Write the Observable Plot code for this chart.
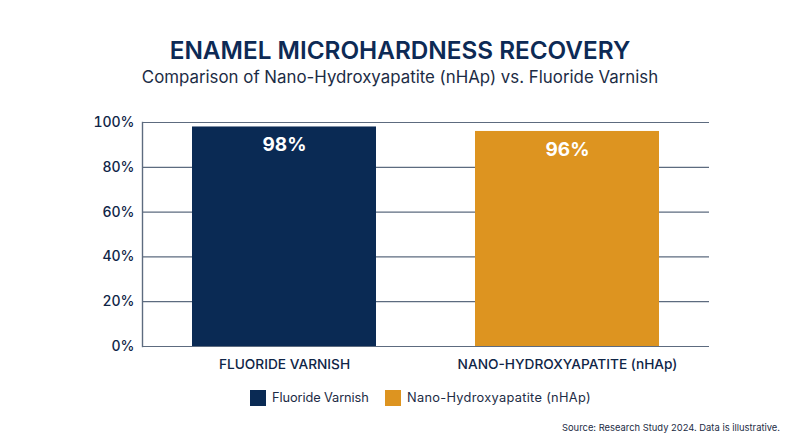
<!DOCTYPE html>
<html><head><meta charset="utf-8">
<script src="https://cdn.jsdelivr.net/npm/d3@7"></script>
<script src="https://cdn.jsdelivr.net/npm/@observablehq/plot@0.6"></script>
<style>
html,body{margin:0;padding:0;background:#fff;}
body{width:800px;height:447px;position:relative;overflow:hidden;font-family:Inter,"Open Sans",sans-serif;color:#0f2547;}
#title,#sub,#source,#legend{position:absolute;white-space:nowrap;}
#title{left:0;width:800px;text-align:center;top:36px;font-size:24.3px;line-height:28px;font-weight:600;color:#0d2a55;}
#sub{left:0;width:800px;text-align:center;top:66px;font-size:16.85px;line-height:22px;color:#1c2c45;}
#chart{position:absolute;left:0;top:95px;}
#chart svg{display:block;}
#legend{left:250px;top:390px;height:16px;display:block;width:400px;font-size:12.8px;line-height:16px;color:#1c2c45;}
.sw{position:absolute;top:0;width:16px;height:16px;}
.lb{position:absolute;top:0;}
#source{right:20px;top:421px;font-size:9.4px;line-height:14px;color:#1c2c45;}
</style></head><body>
<div id="title">ENAMEL MICROHARDNESS RECOVERY</div>
<div id="sub">Comparison of Nano-Hydroxyapatite (nHAp) vs. Fluoride Varnish</div>
<div id="chart"></div>
<div id="legend"></div>
<div id="source">Source: Research Study 2024. Data is illustrative.</div>
<script>
const categories = ["FLUORIDE VARNISH", "NANO-HYDROXYAPATITE (nHAp)"];
const legendLabels = ["Fluoride Varnish", "Nano-Hydroxyapatite (nHAp)"];
const values = [98, 96];
const colors = ["#0a2a54", "#dd9420"];
const yTicks = [0, 20, 40, 60, 80, 100];
const rows = categories.map((c, i) => ({category: c, value: values[i]}));

const plot = Plot.plot({
  width: 800, height: 285,
  marginTop: 27, marginBottom: 34, marginLeft: 142, marginRight: 91,
  style: {fontFamily: "Inter, 'Open Sans', sans-serif", background: "#fff", color: "#0f2547"},
  x: {domain: categories, paddingInner: 0.351, paddingOuter: 0.1755, label: null},
  y: {domain: [0, 100], label: null},
  color: {domain: categories, range: colors},
  marks: [
    Plot.ruleY(yTicks, {stroke: "#5d6b7f", strokeWidth: 1.2, strokeOpacity: 1}),
    Plot.frame({anchor: "left", stroke: "#5d6b7f", strokeWidth: 1.4}),
    Plot.barY(rows, {x: "category", y: "value", fill: "category"}),
    Plot.axisY({ticks: yTicks, tickSize: 0, tickPadding: 8, label: null,
      tickFormat: d => d + "%", fontSize: 14, fontWeight: 500, fill: "#0f2547"}),
    Plot.axisX({tickSize: 0, tickPadding: 12.5, label: null, fontSize: 13.7, fontWeight: 500, fill: "#0f2547"}),
    Plot.text(rows, {x: "category", y: "value", text: d => d.value + "%", dy: 18,
      fill: "#fff", fontSize: 19, fontWeight: 700})
  ]
});
document.getElementById("chart").appendChild(plot);

const offsets = [[0, 22], [135, 157]];
const tracking = [-0.1, 0.3];
document.getElementById("legend").innerHTML = legendLabels.map((l, i) =>
  `<span class="sw" style="left:${offsets[i][0]}px;background:${colors[i]}"></span><span class="lb" style="left:${offsets[i][1]}px;letter-spacing:${tracking[i]}px">${l}</span>`).join("");
</script>
</body></html>
